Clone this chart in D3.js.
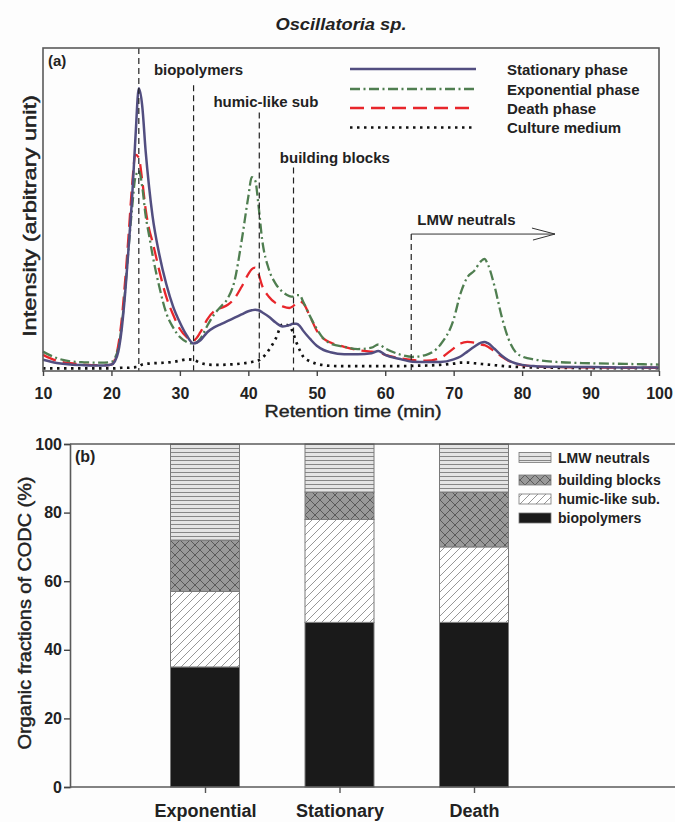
<!DOCTYPE html>
<html>
<head>
<meta charset="utf-8">
<script src="https://cdn.jsdelivr.net/npm/d3@7"></script>
<style>
  html, body { margin: 0; padding: 0; background: #fdfdfd; }
  svg { display: block; font-family: "Liberation Sans", Arial, sans-serif; }
</style>
</head>
<body>
<svg id="chart" width="675" height="822"></svg>
<script>
// ---------------- DATA ----------------
const retentionTime = [10, 12, 14, 16, 18, 19, 20, 20.5, 21, 21.5, 22, 22.5, 23, 23.5, 24, 24.5, 25, 25.5, 26, 27, 28, 29, 30, 31, 32, 33, 34, 35, 36, 37, 38, 39, 40, 40.5, 41, 41.5, 42, 43, 44, 45, 46, 46.5, 47, 47.5, 48, 49, 50, 51, 52, 54, 56, 58, 59, 60, 62, 64, 66, 68, 70, 71, 72, 73, 74, 74.5, 75, 76, 77, 78, 79, 80, 82, 85, 90, 95, 100];

const stationaryPhase = [3.5, 2.5, 2, 1.8, 1.7, 1.7, 2, 3, 6, 13, 24, 38, 53, 72, 87.5, 82, 68, 57, 48, 36, 27, 20, 15, 11, 8.5, 9.5, 12, 13.5, 14.5, 15.5, 16.5, 17.5, 18.5, 18.8, 19, 18.8, 18.2, 16.8, 15, 13.8, 14.2, 14.6, 14.6, 14, 12.5, 10, 7.8, 6.5, 5.8, 5.2, 5.2, 5.5, 6.2, 5, 3.8, 2.9, 2.8, 2.8, 3.6, 4.5, 6, 7.5, 8.8, 9, 8.6, 6.8, 4.8, 3.3, 2.4, 1.9, 1.5, 1.3, 1.2, 1.1, 1.1];

const exponentialPhase = [6, 4, 3, 2.7, 2.6, 2.6, 2.8, 4, 7, 14, 25, 38, 50, 60, 62, 57, 48, 42, 36, 26, 18, 13.5, 10.5, 9, 8.5, 10, 14, 17.5, 20, 22.5, 28, 40, 54, 60, 59, 51, 41, 31.5, 27, 24.5, 23.2, 23, 23.5, 23.5, 21.5, 17, 13, 10, 8.5, 7.5, 6.8, 7.2, 8.2, 7, 5.2, 4.4, 5, 8, 16, 24, 29, 31, 34, 34.7, 33, 26, 17, 10, 6, 4.5, 3.5, 2.8, 2.4, 2.2, 2.0];

const deathPhase = [5, 3.2, 2.4, 2, 1.8, 1.8, 2, 3.5, 8, 16, 28, 42, 57, 67, 66, 59, 50, 44, 40, 31, 23, 17.5, 13, 10.5, 9.5, 12, 16, 18.5, 19.5, 20.5, 22.5, 26, 30, 31.5, 32, 30, 26.5, 23, 21, 20, 19.5, 20, 21, 21.5, 21, 17, 12.5, 10, 8.8, 7.5, 6.5, 6, 5.8, 5, 4, 3.4, 3.2, 4, 7, 8.5, 9, 8.8, 8.2, 8, 7.5, 6, 4.5, 3.2, 2.3, 1.8, 1.4, 1.2, 1.1, 1.0, 1.0];

const cultureMedium = [0.8, 0.8, 0.8, 0.8, 0.8, 0.8, 0.8, 0.8, 0.9, 1, 1, 1, 1.1, 1.2, 1.4, 2, 2.2, 2.3, 2.4, 2.5, 2.6, 2.8, 3.2, 3.6, 3.4, 2.5, 2, 1.9, 1.9, 2, 2.1, 2.3, 2.6, 2.8, 3, 3.3, 4, 6.5, 10, 14.5, 14, 12, 9, 6.5, 4.5, 3, 2.2, 1.8, 1.6, 1.5, 1.5, 1.5, 1.5, 1.5, 1.5, 1.6, 1.7, 1.9, 2.3, 2.6, 2.6, 2.4, 2.2, 2.1, 2, 1.8, 1.6, 1.4, 1.3, 1.2, 1.1, 1, 0.9, 0.9, 0.9];

const seriesNames = ["Stationary phase", "Exponential phase", "Death phase", "Culture medium"];
const xTickValues = [10, 20, 30, 40, 50, 60, 70, 80, 90, 100];

// fraction boundaries (retention time, min) and labels
const boundaryTimes = [24, 32, 41.6, 46.6];
const boundaryLabels = ["biopolymers", "humic-like sub", "building blocks"];
const lmwStartTime = 63.8;
const lmwArrowEnd = 84.8;

// panel (b)
const phases = ["Exponential", "Stationary", "Death"];
const fractionNames = ["biopolymers", "humic-like sub.", "building blocks", "LMW neutrals"];
const biopolymers = [35, 48, 48];
const humicLike = [22, 30, 22];
const buildingBlocks = [15, 8, 16];
const lmwNeutrals = [28, 14, 14];
const yTickValues = [0, 20, 40, 60, 80, 100];

// ---------------- DRAW ----------------
const svg = d3.select("#chart");
const FONT = '"Liberation Sans", Arial, sans-serif';

// patterns
const defs = svg.append("defs");
const pLMW = defs.append("pattern").attr("id", "pLMW").attr("patternUnits", "userSpaceOnUse").attr("width", 8).attr("height", 4);
pLMW.append("rect").attr("width", 8).attr("height", 4).attr("fill", "#e4e4e4");
pLMW.append("line").attr("x1", 0).attr("x2", 8).attr("y1", 0.5).attr("y2", 0.5).attr("stroke", "#7c7c7c").attr("stroke-width", 0.9);

const pBB = defs.append("pattern").attr("id", "pBB").attr("patternUnits", "userSpaceOnUse").attr("width", 10).attr("height", 10);
pBB.append("rect").attr("width", 10).attr("height", 10).attr("fill", "#999999");
pBB.append("path").attr("d", "M0,0L10,10M10,0L0,10").attr("stroke", "#4a4a4a").attr("stroke-width", 0.8).attr("fill", "none");

const pHum = defs.append("pattern").attr("id", "pHum").attr("patternUnits", "userSpaceOnUse").attr("width", 8).attr("height", 8);
pHum.append("rect").attr("width", 8).attr("height", 8).attr("fill", "#ffffff");
pHum.append("path").attr("d", "M-1,1L1,-1M0,8L8,0M7,9L9,7").attr("stroke", "#6a6a6a").attr("stroke-width", 0.7).attr("fill", "none");

// ---- Title
svg.append("text").attr("x", 341).attr("y", 30).attr("text-anchor", "middle")
  .attr("font-size", 16).attr("font-weight", "bold").attr("font-style", "italic")
  .attr("textLength", 131).attr("lengthAdjust", "spacingAndGlyphs")
  .attr("fill", "#222").text("Oscillatoria sp.");

// ---- Panel (a)
const A = { left: 43, right: 659, top: 48, bottom: 371 };
const x = d3.scaleLinear().domain([10, 100]).range([A.left, A.right]);
const y = d3.scaleLinear().domain([0, 100]).range([A.bottom, A.top]);

const gA = svg.append("g");

const data = retentionTime.map((t, i) => ({ t, s: stationaryPhase[i], e: exponentialPhase[i], d: deathPhase[i], c: cultureMedium[i] }));

const styles = [
  { key: "s", color: "#524e80", dash: null, width: 2.5 },
  { key: "e", color: "#4f7e50", dash: "10,3.5,2,3.5", width: 2.3 },
  { key: "d", color: "#e8262b", dash: "14,7", width: 2.3 },
  { key: "c", color: "#111111", dash: "2.5,4.5", width: 2.7 }
];

const drawOrder = [3, 2, 1, 0];
drawOrder.forEach(k => {
  const st = styles[k];
  const line = d3.line().x(p => x(p.t)).y(p => y(p[st.key])).curve(d3.curveMonotoneX);
  gA.append("path").datum(data).attr("d", line).attr("fill", "none")
    .attr("stroke", st.color).attr("stroke-width", st.width)
    .attr("stroke-dasharray", st.dash);
});

// boundary dashed lines
const lineTops = [100, 88.5, 80, 63];
boundaryTimes.forEach((t, i) => {
  gA.append("line").attr("x1", x(t)).attr("x2", x(t)).attr("y1", y(lineTops[i])).attr("y2", A.bottom)
    .attr("stroke", "#222").attr("stroke-width", 1.2).attr("stroke-dasharray", "6,4");
});
const labelPos = [{ t: 26.2, v: 91.5 }, { t: 34.9, v: 81.8 }, { t: 44.6, v: 64.5 }];
boundaryLabels.forEach((s, i) => {
  gA.append("text").attr("x", x(labelPos[i].t)).attr("y", y(labelPos[i].v))
    .attr("font-size", 15).attr("font-weight", "bold").attr("fill", "#222").text(s);
});

// LMW arrow
const yArrow = y(42.4);
gA.append("line").attr("x1", x(lmwStartTime)).attr("x2", x(lmwStartTime)).attr("y1", yArrow).attr("y2", A.bottom)
  .attr("stroke", "#222").attr("stroke-width", 1.2).attr("stroke-dasharray", "6,4");
gA.append("line").attr("x1", x(lmwStartTime)).attr("x2", x(lmwArrowEnd)).attr("y1", yArrow).attr("y2", yArrow)
  .attr("stroke", "#333").attr("stroke-width", 1);
gA.append("path").attr("d", `M${x(lmwArrowEnd) - 23},${yArrow - 6}L${x(lmwArrowEnd)},${yArrow}L${x(lmwArrowEnd) - 22},${yArrow + 6}`)
  .attr("fill", "none").attr("stroke", "#333").attr("stroke-width", 1);
gA.append("text").attr("x", x(lmwStartTime) + 6).attr("y", y(45.3))
  .attr("font-size", 15).attr("font-weight", "bold").attr("fill", "#222").text("LMW neutrals");

// frame
gA.append("rect").attr("x", A.left).attr("y", A.top).attr("width", A.right - A.left).attr("height", A.bottom - A.top)
  .attr("fill", "none").attr("stroke", "#5a5a5a").attr("stroke-width", 1.6);

// x axis
const xAxis = d3.axisBottom(x).tickValues(xTickValues).tickSize(5).tickPadding(12);
const gx = gA.append("g").attr("transform", `translate(0,${A.bottom})`).call(xAxis);
gx.select(".domain").remove();
gx.selectAll(".tick line").attr("stroke", "#444").attr("stroke-width", 1.4);
gx.selectAll(".tick text").attr("font-family", FONT).attr("font-size", 16).attr("font-weight", "bold").attr("fill", "#222");

svg.append("text").attr("x", 353).attr("y", 417).attr("text-anchor", "middle")
  .attr("font-size", 17).attr("fill", "#222").attr("stroke", "#222").attr("stroke-width", 0.4)
  .attr("textLength", 177).attr("lengthAdjust", "spacingAndGlyphs")
  .text("Retention time (min)");

svg.append("text").attr("transform", "translate(36,216) rotate(-90)").attr("text-anchor", "middle")
  .attr("font-size", 18).attr("fill", "#222").attr("stroke", "#222").attr("stroke-width", 0.45)
  .attr("textLength", 242).attr("lengthAdjust", "spacingAndGlyphs")
  .text("Intensity (arbitrary unit)");

svg.append("text").attr("x", 48).attr("y", 66).attr("font-size", 15).attr("font-weight", "bold").attr("fill", "#222").text("(a)");

// legend (a)
const legA = svg.append("g");
const legY = [69, 89, 108, 127.5];
styles.forEach((st, i) => {
  legA.append("line").attr("x1", 350).attr("x2", 476).attr("y1", legY[i]).attr("y2", legY[i])
    .attr("stroke", st.color).attr("stroke-width", st.width).attr("stroke-dasharray", st.dash);
  legA.append("text").attr("x", 507).attr("y", legY[i] + 5.5).attr("font-size", 15).attr("font-weight", "bold")
    .attr("fill", "#222").text(seriesNames[i]);
});

// ---- Panel (b)
const B = { left: 70, right: 675, top: 444, bottom: 787 };
const xb = d3.scalePoint().domain(phases).range([205, 474]);
const yb = d3.scaleLinear().domain([0, 100]).range([B.bottom, B.top]);
const barW = 69;
const gB = svg.append("g");

const layers = [
  { name: fractionNames[0], fill: "#1a1a1a" },
  { name: fractionNames[1], fill: "url(#pHum)" },
  { name: fractionNames[2], fill: "url(#pBB)" },
  { name: fractionNames[3], fill: "url(#pLMW)" }
];
const stackData = phases.map((p, i) => ({ phase: p, b: biopolymers[i], h: humicLike[i], bb: buildingBlocks[i], l: lmwNeutrals[i] }));
const stacked = d3.stack().keys(["b", "h", "bb", "l"])(stackData);
stacked.forEach((layer, li) => {
  gB.append("g").selectAll("rect").data(layer).join("rect")
    .attr("x", d => xb(d.data.phase) - barW / 2)
    .attr("y", d => yb(d[1]))
    .attr("width", barW)
    .attr("height", d => yb(d[0]) - yb(d[1]))
    .attr("fill", layers[li].fill)
    .attr("stroke", "#7a7a7a").attr("stroke-width", 1);
});

// axes (b)
gB.append("line").attr("x1", B.left).attr("x2", B.right).attr("y1", B.top).attr("y2", B.top).attr("stroke", "#5a5a5a").attr("stroke-width", 1.6);
gB.append("line").attr("x1", B.left).attr("x2", B.right).attr("y1", B.bottom).attr("y2", B.bottom).attr("stroke", "#5a5a5a").attr("stroke-width", 1.6);
const gyb = gB.append("g").attr("transform", `translate(${B.left},0)`)
  .call(d3.axisLeft(yb).tickValues(yTickValues).tickSize(6).tickPadding(2));
gyb.select(".domain").attr("stroke", "#5a5a5a").attr("stroke-width", 1.6);
gyb.selectAll(".tick line").attr("stroke", "#444").attr("stroke-width", 1.4);
gyb.selectAll(".tick text").attr("font-family", FONT).attr("font-size", 16).attr("font-weight", "bold").attr("fill", "#222");

const gxb = gB.append("g").attr("transform", `translate(0,${B.bottom})`)
  .call(d3.axisBottom(xb).tickSize(6).tickPadding(11));
gxb.select(".domain").remove();
gxb.selectAll(".tick line").attr("stroke", "#555").attr("stroke-width", 1.4);
gxb.selectAll(".tick text").attr("font-family", FONT).attr("font-size", 18).attr("font-weight", "bold").attr("fill", "#222");

svg.append("text").attr("transform", "translate(31,613) rotate(-90)").attr("text-anchor", "middle")
  .attr("font-size", 18).attr("fill", "#222").attr("stroke", "#222").attr("stroke-width", 0.45)
  .attr("textLength", 273).attr("lengthAdjust", "spacingAndGlyphs")
  .text("Organic fractions of CODC (%)");

svg.append("text").attr("x", 75).attr("y", 462).attr("font-size", 16).attr("font-weight", "bold").attr("fill", "#222").text("(b)");

// legend (b)
const legB = svg.append("g");
const legBy = [457.5, 480, 499, 518];
const legOrder = [3, 2, 1, 0];
legOrder.forEach((li, i) => {
  legB.append("rect").attr("x", 519).attr("y", legBy[i] - 5).attr("width", 32).attr("height", 10)
    .attr("fill", layers[li].fill).attr("stroke", "#777").attr("stroke-width", 0.8);
  legB.append("text").attr("x", 558).attr("y", legBy[i] + 5).attr("font-size", 14).attr("font-weight", "bold")
    .attr("fill", "#222").text(layers[li].name);
});
</script>
</body>
</html>
